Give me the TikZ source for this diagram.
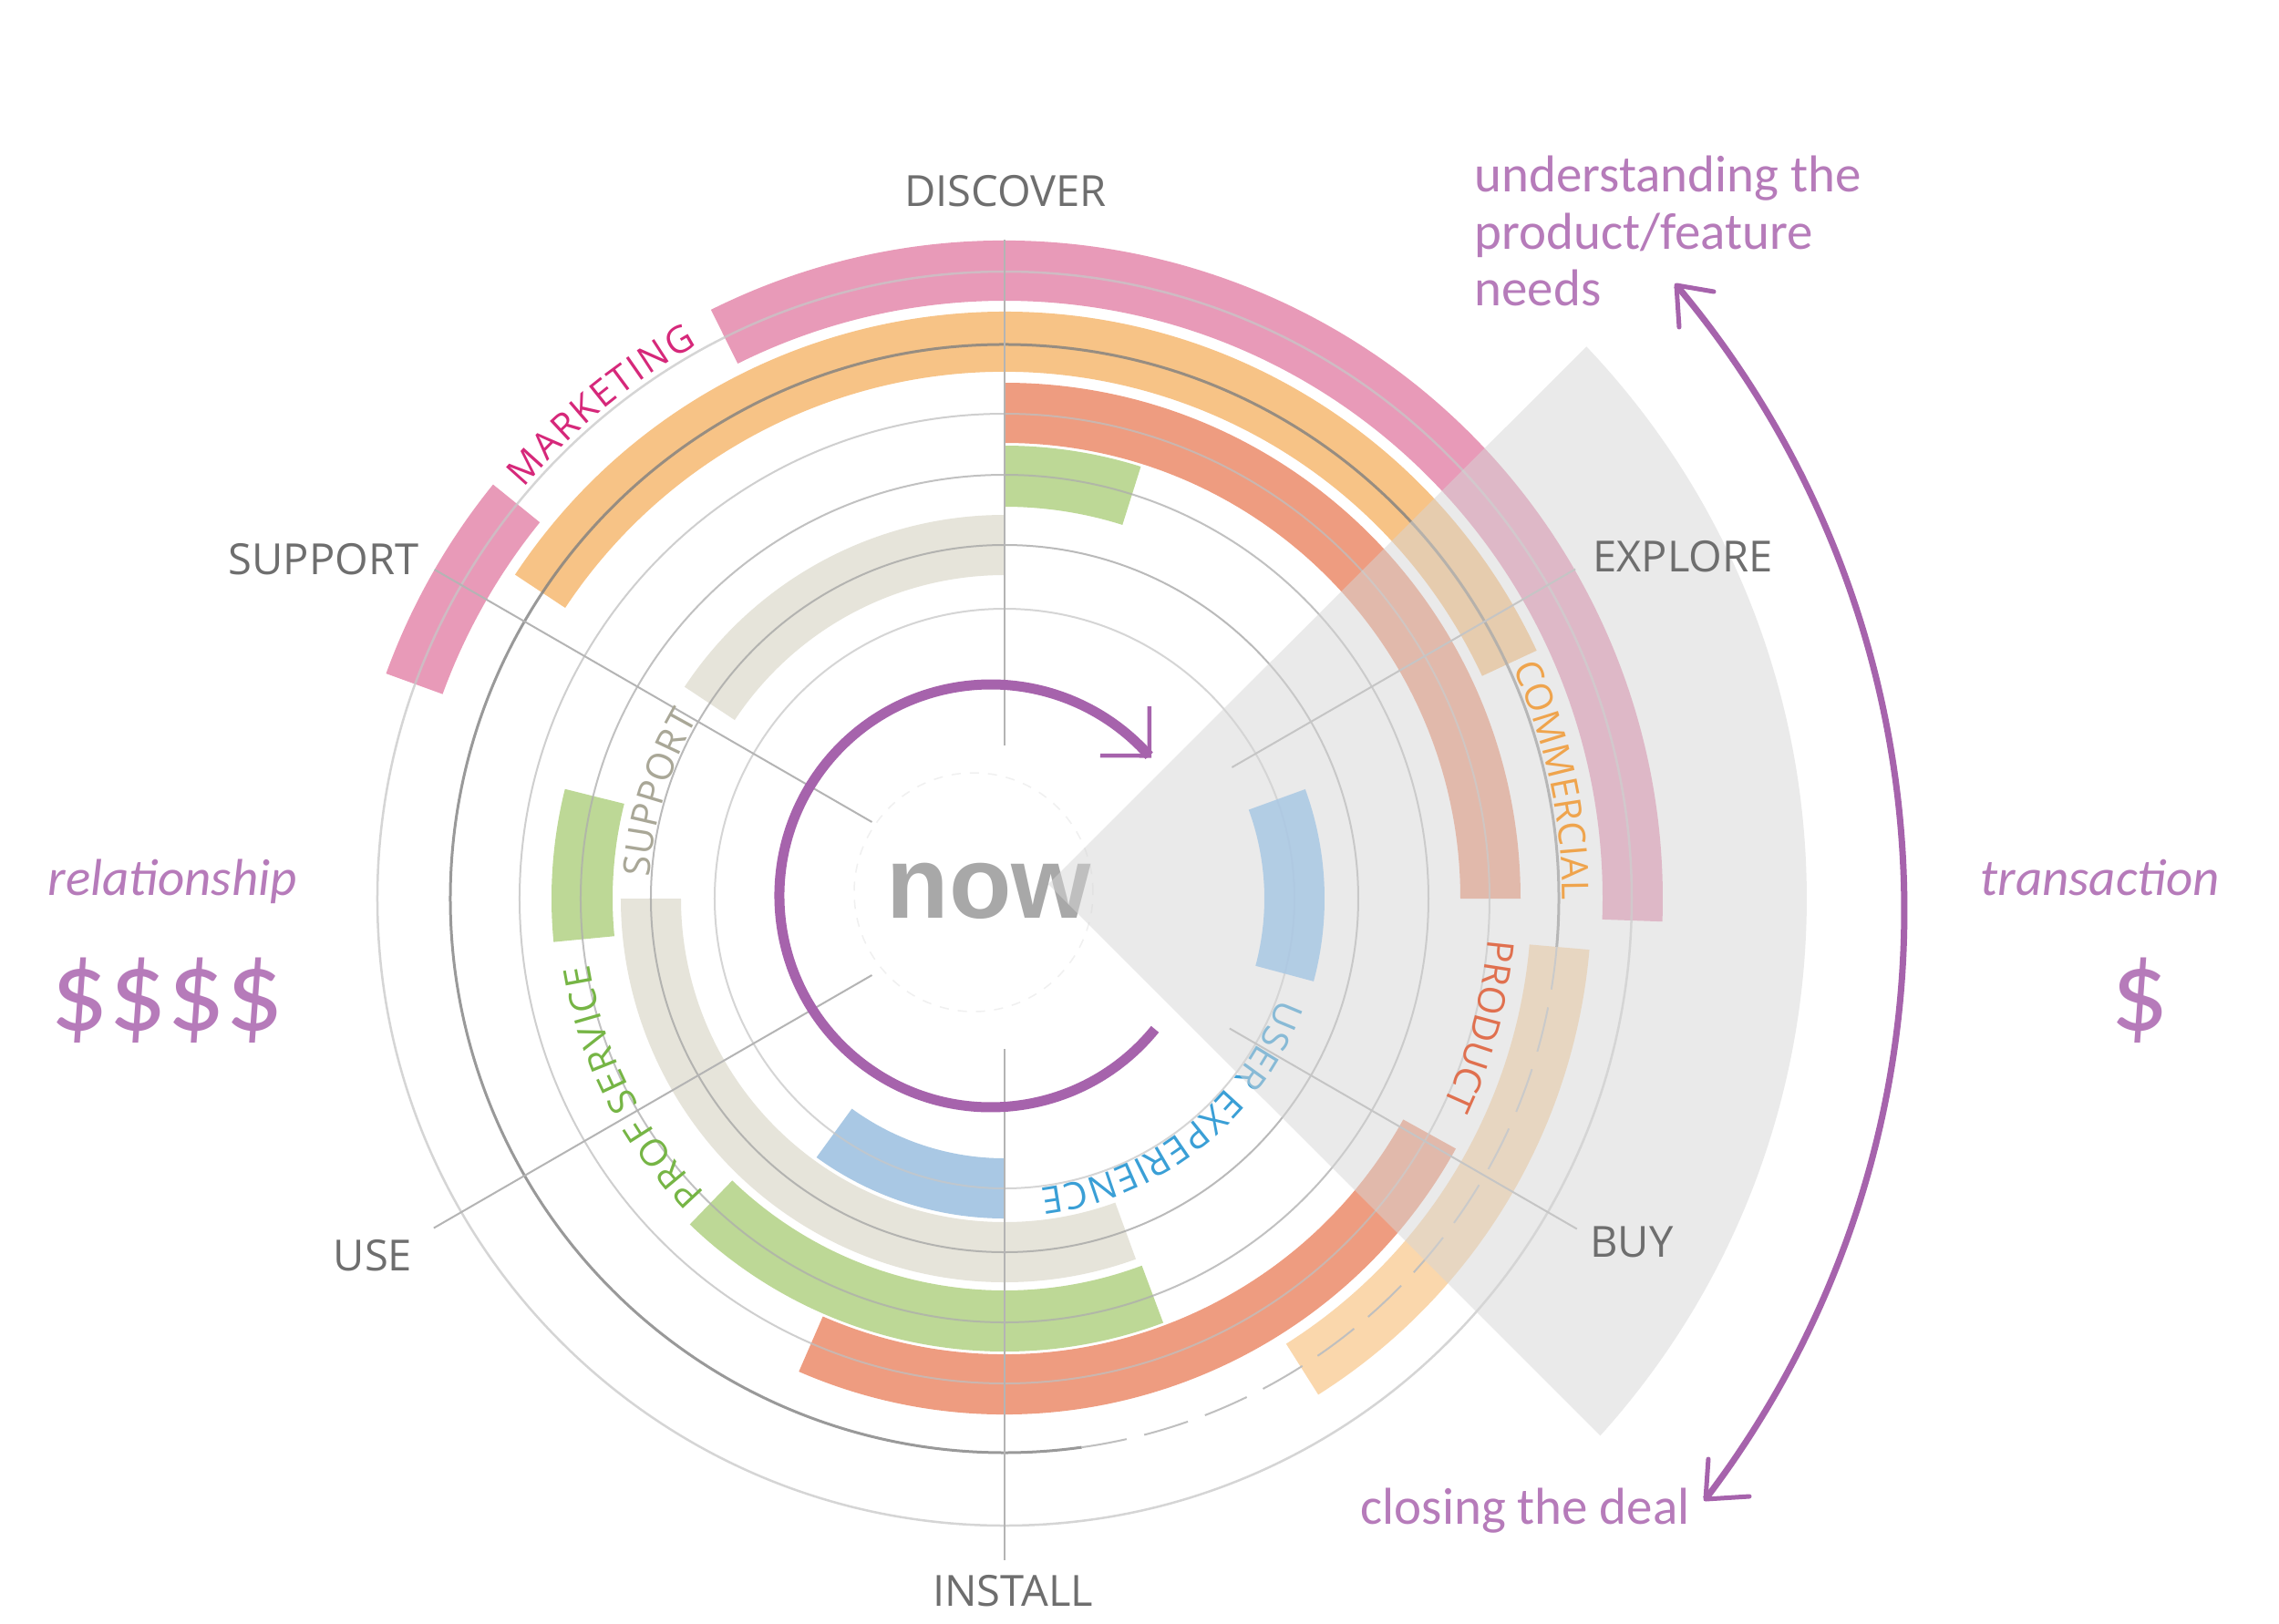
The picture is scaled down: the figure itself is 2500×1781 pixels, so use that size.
\documentclass[tikz,border=0pt]{standalone}
\usepackage{fontspec}
\setmainfont{Open Sans}
\newfontfamily\calfont{Carlito}
\newfontfamily\nowfam{Liberation Sans}
\usetikzlibrary{decorations.text}

\definecolor{cpink}{HTML}{E89AB8}
\definecolor{corange}{HTML}{F7C386}
\definecolor{cpaleor}{HTML}{FAD7AC}
\definecolor{csalmon}{HTML}{EE9C80}
\definecolor{cgreen}{HTML}{BDD896}
\definecolor{cbeige}{HTML}{E6E4DA}
\definecolor{cblue}{HTML}{A9C8E4}
\definecolor{wedgegray}{HTML}{D6D6D6}
\definecolor{lblgray}{HTML}{6E6E6E}
\definecolor{ptxt}{HTML}{B67BBA}
\definecolor{parrowc}{HTML}{A663AC}
\definecolor{tmark}{HTML}{D6287A}
\definecolor{tcomm}{HTML}{EFA44D}
\definecolor{tprod}{HTML}{E0704F}
\definecolor{tsupp}{HTML}{A9A797}
\definecolor{tprof}{HTML}{76B545}
\definecolor{tux}{HTML}{3A9FD6}
\definecolor{nowgray}{HTML}{A8A8A8}
\definecolor{spokegray}{HTML}{B4B4B4}

\newcommand{\ringfont}{\fontsize{11.6}{13}\selectfont}
\newcommand{\outfont}{\fontsize{13.4}{15}\selectfont}
\newcommand{\purfont}{\calfont\fontsize{16.2}{18}\selectfont}
\newcommand{\purifont}{\calfont\itshape\fontsize{16.2}{18}\selectfont}
\newcommand{\dollarfont}{\calfont\fontsize{35.8}{38}\selectfont}

\newcommand{\myband}[5]{%
  \fill[#5] (#1:#3) arc[start angle=#1, end angle=#2, radius=#3]
    -- (#2:#4) arc[start angle=#2, end angle=#1, radius=#4] -- cycle;}
\newcommand{\ringlabel}[5]{%
  \path[decorate, decoration={text along path, text={|\ringfont|#5},
    text align={fit to path}, text color=#4}]
    (#1:#3) arc[start angle=#1, end angle=#2, radius=#3];}

\begin{document}
\begin{tikzpicture}[x=0.1mm, y=0.1mm,
  spoke/.style={draw=spokegray, line width=0.2mm},
  ring/.style={line width=0.2mm, opacity=0.75},
  outlbl/.style={text=lblgray, font=\outfont, inner sep=0pt},
  ptext/.style={text=ptxt, font=\purfont, inner sep=0pt},
  bigarc/.style={draw=parrowc, line width=0.7mm},
  headline/.style={draw=parrowc, line width=0.5mm, line join=round, line cap=round}]

\path[use as bounding box, fill=white] (-1102,-795) rectangle (1398,986);

% coloured bands
\myband{-2}{116.5}{656}{722}{cpink}
\myband{141}{160}{656}{722}{cpink}
\myband{25}{146.5}{578}{644}{corange}
\myband{-57.7}{-5}{578}{644}{cpaleor}
\myband{0}{90}{500}{566}{csalmon}
\myband{246.5}{331}{500}{566}{csalmon}
\myband{72.5}{90}{430}{497}{cgreen}
\myband{166}{185.5}{430}{497}{cgreen}
\myband{226}{290.5}{430}{497}{cgreen}
\myband{90}{146.5}{355}{421}{cbeige}
\myband{180}{290}{355}{421}{cbeige}
\myband{234}{270}{285}{351}{cblue}

% thin circles
\draw[ring, draw=black!22] (0,0) circle[radius=318];
\draw[ring, draw=black!36] (0,0) circle[radius=388];
\draw[ring, draw=black!32] (0,0) circle[radius=465];
\draw[ring, draw=black!25] (0,0) circle[radius=532];
\draw[line width=0.3mm, draw=black!50, opacity=0.8] (-5:608) arc[start angle=-5, end angle=278, radius=608];
\draw[line width=0.2mm, draw=black!25, dash pattern=on 5mm off 2mm] (278:608) arc[start angle=278, end angle=355, radius=608];
\draw[ring, draw=black!22, line width=0.25mm] (0,0) circle[radius=688];
\draw[line width=0.15mm, draw=black!6, dash pattern=on 1mm off 1mm] (-34,7) circle[radius=131];

% spokes
\draw[spoke] (90:168) -- (90:723);
\draw[spoke] (270:165) -- (270:726);
\draw[spoke] (150:168) -- (150:722);
\draw[spoke] (210:168) -- (210:723);
\draw[spoke] (30:288) -- (30:723);
\draw[spoke] (-30:285) -- (-30:725);

% centre word
\node[text=nowgray, font={\nowfam\fontsize{31.9}{34}\selectfont\bfseries}, inner sep=0pt, anchor=base] (now) at (-17,-21) {now};

% ring labels under the wedge
\ringlabel{139.5}{119}{694}{tmark}{MARKETING}
\ringlabel{176.5}{149.5}{390}{tsupp}{SUPPORT}
\ringlabel{224.5}{189}{461}{tprof}{PROF SERVICE}
\ringlabel{-20}{-83}{320}{tux}{USER EXPERIENCE}

% grey wedge
\fill[wedgegray, opacity=0.5] (48,16) -- (43.5:880) arc[start angle=43.5, end angle=-42.05, radius=880] -- cycle;

% blue band inside the wedge
\begin{scope}[opacity=0.85]
\myband{-15}{20}{285}{351}{cblue}
\end{scope}

% ring labels over the wedge
\ringlabel{24.5}{0.2}{612}{tcomm}{COMMERCIAL}
\ringlabel{-4.8}{-25}{532}{tprod}{PRODUCT}

% outer stage labels
\node[outlbl] (discover) at (1,776) {DISCOVER};
\node[outlbl] (explore) at (744,375) {EXPLORE};
\node[outlbl] (support) at (-747,372) {SUPPORT};
\node[outlbl] (use) at (-693,-392) {USE};
\node[outlbl] (buy) at (688,-377) {BUY};
\node[outlbl] (install) at (9,-760) {INSTALL};

% inner circular arrow
\coordinate (itip) at (158.8,156.7);
\draw[line width=1.1mm, draw=parrowc] (165,-143.3) arc[start angle=-39.1, end angle=-318.5, radius=232];
\draw[draw=parrowc, line width=0.45mm] (159,211) -- (itip) -- (105,157);

% big right arrow
\coordinate (ta) at (737,673);
\coordinate (tb) at (769,-659);
\draw[bigarc] (ta) arc[start angle=40.05, end angle=-37.3, radius=1066];
\draw[headline] (778,666) -- (ta) -- (740,627);
\draw[headline] (772,-615) -- (tb) -- (817,-656);

% purple texts
\node[ptext, anchor=base west] (u1) at (515,776) {understanding the};
\node[ptext, anchor=base west] (u2) at (515,713) {product/feature};
\node[ptext, anchor=base west] (u3) at (515,651) {needs};
\node[ptext, anchor=base west] (close) at (390,-686) {closing the deal};
\node[ptext, font=\purifont, anchor=base west] (rel) at (-1050,4) {relationship};
\node[ptext, font=\dollarfont, anchor=base west] (d4) at (-1047,-144) {\$\$\$\$};
\node[ptext, font=\purifont, anchor=base west] (trans) at (1070,4) {transaction};
\node[ptext, font=\dollarfont, anchor=base] (d1) at (1245,-144) {\$};
\end{tikzpicture}
\end{document}
